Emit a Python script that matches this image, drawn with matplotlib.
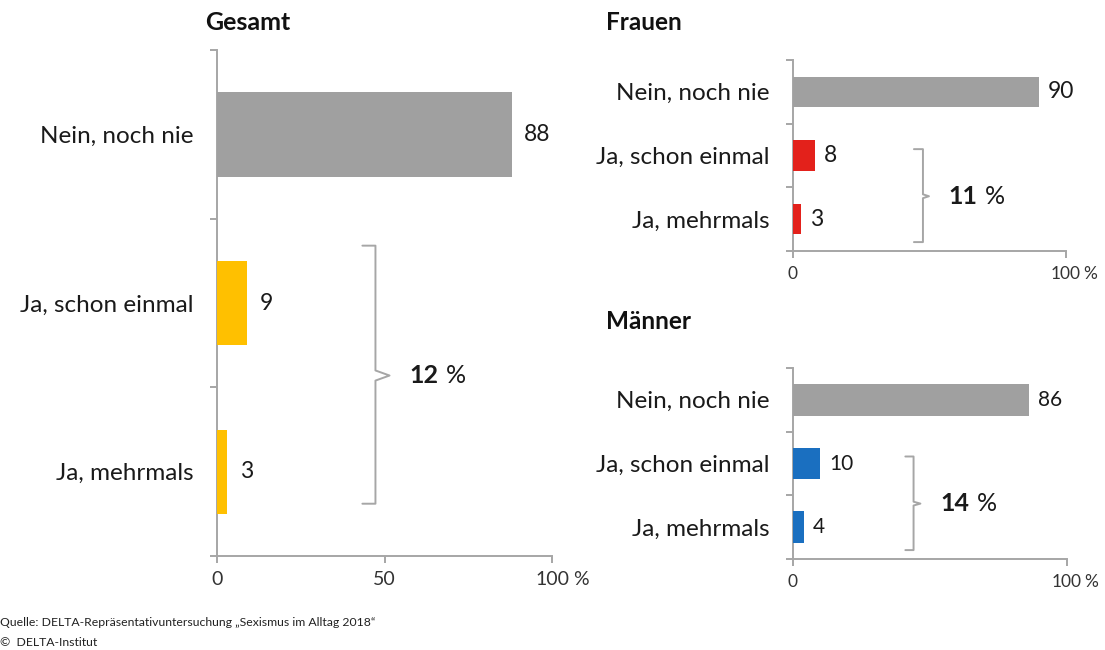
import matplotlib
matplotlib.use("Agg")
import matplotlib.pyplot as plt

plt.rcParams['font.family'] = ['Lato', 'DejaVu Sans']

categories = ["Nein, noch nie", "Ja, schon einmal", "Ja, mehrmals"]
gesamt = [88, 9, 3]
frauen = [90, 8, 3]
maenner = [86, 10, 4]
gesamt_colors = ["#A0A0A0", "#FFC000", "#FFC000"]
frauen_colors = ["#A0A0A0", "#E3211B", "#E3211B"]
maenner_colors = ["#A0A0A0", "#1A6FC0", "#1A6FC0"]
totals = {"Gesamt": 12, "Frauen": 11, "Männer": 14}

W, H = 1105, 650
fig = plt.figure(figsize=(W / 100, H / 100), dpi=100)
AX_COLOR = "#A6A6A6"
TXT = "#1a1a1a"
TICK_TXT = "#333333"


def px_axes(x0, y0, x1, y1):
    return fig.add_axes([x0 / W, 1 - y1 / H, (x1 - x0) / W, (y1 - y0) / H])


def setup(ax, values, colors, xticks, bar_h, lab_fs, val_fs, val_off, tick_fs, pct_dx):
    ax.barh(range(len(values)), values, height=bar_h, color=colors, zorder=3)
    ax.set_xlim(0, 100)
    ax.set_ylim(2.5, -0.5)
    for s in ["top", "right"]:
        ax.spines[s].set_visible(False)
    for s in ["left", "bottom"]:
        ax.spines[s].set_color(AX_COLOR)
        ax.spines[s].set_linewidth(1.4)
    ax.set_yticks([0, 1, 2], labels=categories)
    ax.set_yticks([-0.5, 0.5, 1.5, 2.5], minor=True)
    ax.tick_params(axis="y", which="major", length=0, pad=17, labelsize=lab_fs, labelcolor=TXT)
    ax.tick_params(axis="y", which="minor", length=5, width=1.4, color=AX_COLOR, direction="out")
    ax.set_xticks(xticks, labels=[str(t) for t in xticks])
    ax.tick_params(axis="x", length=5, width=1.4, color=AX_COLOR, direction="out",
                   labelsize=tick_fs, labelcolor=TICK_TXT, pad=6)
    ax.annotate("%", xy=(100, 0), xycoords=("data", "axes fraction"),
                xytext=(pct_dx, -5 - 6), textcoords="offset points",
                ha="left", va="top", fontsize=tick_fs, color=TICK_TXT, annotation_clip=False)
    for i, v in enumerate(values):
        ax.annotate(str(v), xy=(v, i), xytext=(val_off, 0), textcoords="offset points",
                    ha="left", va="center", fontsize=val_fs, color=TXT)


def bracket(ax, x0, x1, xtip, y0, y1, ytip, total, tx, fs):
    kw = dict(color=AX_COLOR, lw=1.4, solid_capstyle="round", solid_joinstyle="round", zorder=2)
    ax.plot([x0, x1, x1, xtip, x1, x1, x0],
            [y0, y0, ytip - 0.03, ytip, ytip + 0.03, y1, y1], **kw)
    ax.text(tx, ytip, str(total), ha="left", va="center", fontsize=fs,
            fontweight="bold", color=TXT)
    ax.annotate("%", xy=(tx, ytip), xytext=(fs * 1.45, 0), textcoords="offset points",
                ha="left", va="center", fontsize=fs, color=TXT)


# Gesamt
ax1 = px_axes(217, 50, 552, 556)
setup(ax1, gesamt, gesamt_colors, [0, 50, 100], 0.5, 17.5, 16.5, 9, 14, 15)
bracket(ax1, 43.4, 47.3, 51.5, 0.66, 2.19, 1.43, totals["Gesamt"], 57.5, 18)
fig.text(205 / W, 1 - 22 / H, "Gesamt", fontsize=18, fontweight="bold", va="center", ha="left", color="#111111")

# Frauen
ax2 = px_axes(793, 60, 1066, 251)
setup(ax2, frauen, frauen_colors, [0, 100], 0.48, 17.5, 16.5, 6.5, 12.5, 12.5)
bracket(ax2, 44.3, 47.6, 49.8, 0.9, 2.36, 1.64, totals["Frauen"], 57, 18)
fig.text(606 / W, 1 - 22 / H, "Frauen", fontsize=17.5, fontweight="bold", va="center", ha="left", color="#111111")

# Männer
ax3 = px_axes(793, 368, 1067, 559)
setup(ax3, maenner, maenner_colors, [0, 100], 0.5, 17.5, 15, 6.5, 12.5, 12.5)
bracket(ax3, 41, 44, 46.5, 0.89, 2.36, 1.63, totals["Männer"], 53.8, 18)
fig.text(606 / W, 1 - 322 / H, "Männer", fontsize=17.5, fontweight="bold", va="center", ha="left", color="#111111")

fig.text(0, 1 - 623 / H, "Quelle: DELTA-Repräsentativuntersuchung „Sexismus im Alltag 2018\u201c",
         fontsize=8.8, va="center", ha="left", color="#222222")
fig.text(0, 1 - 643 / H, "©  DELTA-Institut", fontsize=8.8, va="center", ha="left", color="#222222")

fig.savefig("out.png", dpi=100, facecolor="white")
